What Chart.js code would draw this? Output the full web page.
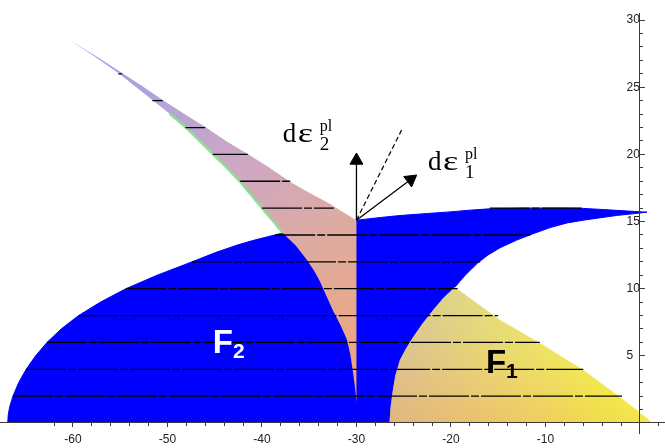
<!DOCTYPE html>
<html>
<head>
<meta charset="utf-8">
<title>Yield surfaces F1 and F2</title>
<script src="https://cdn.jsdelivr.net/npm/chart.js@4.4.1/dist/chart.umd.min.js"></script>
<style>
  html, body { margin: 0; padding: 0; background: #ffffff; }
  #plot { display: block; }
</style>
</head>
<body>
<canvas id="plot" width="665" height="448"></canvas>
<script>
// ---- axes ----
const xRange = [-67.72, 2.65];
const yRange = [-0.745, 30.53];
const xMajorTicks = [-60, -50, -40, -30, -20, -10];
const xMinorTicks = [-62, -60, -58, -56, -54, -52, -50, -48, -46, -44, -42, -40, -38, -36, -34, -32, -30,
                     -28, -26, -24, -22, -20, -18, -16, -14, -12, -10, -8, -6, -4, -2, 0, 2];
const yMajorTicks = [5, 10, 15, 20, 25, 30];
const yMinorTicks = [1, 2, 3, 4, 5, 6, 7, 8, 9, 10, 11, 12, 13, 14, 15, 16, 17, 18, 19, 20,
                     21, 22, 23, 24, 25, 26, 27, 28, 29, 30];

// ---- F2 surface section (blue), traced round its outline ----
const blueX = [-66.9, -66.85, -66.7, -66.35, -65.75, -64.95, -63.95, -62.75, -61.25, -59.4, -57.1, -54.4,
               -51.1, -47.4, -44.9, -42.6, -40.9, -39.2, -37.8, -30.0,
               -27.5, -25.4, -22.5, -20.1, -18.0, -15.9, -12.0, -8.0, -6.0, -4.0, -2.1, -0.5, 0.74,
               -0.74, -2.5, -4.2, -6.0, -7.7, -9.5, -11.3, -13.1, -14.8, -16.1, -17.2, -18.5, -19.6,
               -20.8, -21.9, -23.0, -24.0, -24.8, -25.4, -25.9, -26.2, -26.4, -26.5];
const blueY = [0, 0.6, 1.2, 2.0, 3.0, 4.0, 5.0, 6.0, 7.0, 8.0, 9.0, 10.0,
               11.0, 12.0, 12.7, 13.25, 13.6, 13.9, 14.15, 15.1,
               15.3, 15.45, 15.6, 15.72, 15.85, 15.95, 16.0, 16.0, 15.98, 15.9, 15.82, 15.75, 15.7,
               15.58, 15.45, 15.28, 15.1, 14.9, 14.55, 14.1, 13.6, 13.05, 12.5, 11.9, 11.0, 10.1,
               9.3, 8.4, 7.4, 6.4, 5.5, 4.7, 3.5, 2.2, 1.1, 0];

// ---- F1 surface section (orange to yellow) ----
const f1X = [-26.5, -26.4, -26.2, -25.9, -25.4, -24.8, -24.0, -23.0, -21.9, -20.8, -19.6,
             -14.8, -10.6, -6.0, -2.1, -1.06, -0.32, 0.0, 0.74, 1.27];
const f1Y = [0, 1.1, 2.2, 3.5, 4.7, 5.5, 6.4, 7.4, 8.4, 9.3, 10.1,
             7.67, 5.96, 3.95, 1.94, 1.34, 0.97, 0.74, 0.37, 0];

// ---- shaded band and cusp between the two surfaces ----
const bandX = [-60.3, -57.5, -54.8, -52.6, -50.5, -48.2, -46.0, -43.8, -41.5, -39.2, -37.0, -35.0, -33.0, -31.4, -30.0,
               -30.0, -30.1, -30.2, -30.4, -30.65, -31.0, -31.7, -32.5, -33.2, -33.9, -34.5, -35.2, -36.4, -37.8,
               -38.9, -40.0, -41.1, -42.3, -43.7, -45.2, -46.6, -48.1, -49.8, -51.6, -53.4, -55.2, -57.7];
const bandY = [28.5, 27.3, 26.06, 25.05, 24.05, 23.0, 22.04, 21.0, 20.03, 19.0, 17.95, 17.15, 16.4, 15.7, 15.1,
               1.55, 2.3, 2.9, 3.95, 5.1, 6.2, 7.3, 8.4, 9.5, 10.6, 11.35, 12.1, 13.2, 14.15,
               15.1, 16.0, 16.95, 17.95, 19.0, 20.03, 21.0, 22.04, 23.05, 24.05, 25.05, 26.06, 27.3];
const rimX = [-49.8, -48.1, -46.6, -45.2, -43.7, -42.3, -41.1, -40.0, -38.9, -37.8];
const rimY = [23.05, 22.04, 21.0, 20.03, 19.0, 17.95, 16.95, 16.0, 15.1, 14.15];

// ---- level lines ----
const hatchLevel = [2, 4, 6, 8, 10, 12, 14, 16, 16, 18, 20, 22, 24, 26];
const hatchFrom  = [-66.35, -64.95, -62.75, -59.4, -54.4, -47.4, -38.6, -40.0, -15.9, -42.3, -45.2, -48.1, -51.6, -55.2];
const hatchTo    = [-1.9, -6.0, -10.6, -15.0, -19.3, -16.9, -11.6, -32.4, -6.1, -37.0, -41.5, -46.0, -50.5, -54.8];

// ---- plastic strain increment vectors at the corner ----
const cornerPoint = [-30.0, 15.1];
const deps2End = [-30.0, 19.55];
const deps1End = [-24.26, 18.13];
const normalEnd = [-25.22, 21.82];

// ---- labels ----
const strainLabelX = [-37.8, -22.43];
const strainLabelY = [20.92, 18.84];
const strainLabelIndex = ['2', '1'];
const regionLabelX = [-45.2, -16.3];
const regionLabelY = [5.21, 3.72];
const regionLabelIndex = ['2', '1'];
const regionLabelColor = ['#ffffff', '#000000'];

const toPoints = (xs, ys) => xs.map((x, i) => ({x, y: ys[i]}));

function hatchPoints() {
  const pts = [];
  hatchLevel.forEach((lv, i) => {
    pts.push({x: hatchFrom[i], y: lv}, {x: hatchTo[i], y: lv}, {x: hatchTo[i], y: null});
  });
  return pts;
}

// gradient laid out in data units, converted through the chart scales
function linearFill(x0, y0, x1, y1, stops) {
  return (context) => {
    const chart = context.chart;
    const sx = chart.scales.x, sy = chart.scales.y;
    if (!sx || !sy || !chart.chartArea) return stops[0][1];
    const g = chart.ctx.createLinearGradient(
      sx.getPixelForValue(x0), sy.getPixelForValue(y0),
      sx.getPixelForValue(x1), sy.getPixelForValue(y1));
    stops.forEach(([o, c]) => g.addColorStop(o, c));
    return g;
  };
}

// arrowhead rotation follows the drawn segment on screen
function headRotation(context) {
  const chart = context.chart;
  const pts = chart.data.datasets[context.datasetIndex].data;
  const dx = chart.scales.x.getPixelForValue(pts[1].x) - chart.scales.x.getPixelForValue(pts[0].x);
  const dy = chart.scales.y.getPixelForValue(pts[1].y) - chart.scales.y.getPixelForValue(pts[0].y);
  return Math.atan2(dx, -dy) * 180 / Math.PI;
}

const polygon = {
  showLine: true, fill: 'shape', pointRadius: 0, pointHoverRadius: 0,
  borderColor: 'rgba(0,0,0,0)', borderWidth: 0, tension: 0
};

const labelLayer = {
  id: 'labelLayer',
  afterDatasetsDraw(chart) {
    const {ctx} = chart;
    const sx = chart.scales.x, sy = chart.scales.y;
    ctx.save();
    ctx.textAlign = 'left';
    ctx.textBaseline = 'alphabetic';
    ctx.fillStyle = '#000';
    strainLabelX.forEach((vx, i) => {
      const px = sx.getPixelForValue(vx);
      const py = sy.getPixelForValue(strainLabelY[i]);
      ctx.font = '27px "Liberation Serif", "Times New Roman", serif';
      ctx.fillText('d', px, py);
      ctx.save();
      ctx.translate(px + 15, py);
      ctx.scale(1.3, 1);
      ctx.font = '28px "Liberation Serif", "Times New Roman", serif';
      ctx.fillText('\u03B5', 0, 0);
      ctx.restore();
      ctx.font = '16px "Liberation Serif", "Times New Roman", serif';
      ctx.fillText('pl', px + 37, py - 11);
      ctx.font = '19px "Liberation Serif", "Times New Roman", serif';
      ctx.fillText(strainLabelIndex[i], px + 37, py + 8);
    });
    regionLabelX.forEach((vx, i) => {
      const px = sx.getPixelForValue(vx);
      const py = sy.getPixelForValue(regionLabelY[i]);
      ctx.fillStyle = regionLabelColor[i];
      ctx.font = 'bold 33px "Liberation Sans", Arial, sans-serif';
      ctx.fillText('F', px, py);
      const w = ctx.measureText('F').width;
      ctx.font = 'bold 21px "Liberation Sans", Arial, sans-serif';
      ctx.fillText(regionLabelIndex[i], px + w, py + 4.5);
    });
    ctx.restore();
  }
};

const axisColor = '#3a3a3a';
const tickFont = {family: '"Liberation Sans", Arial, sans-serif', size: 12};

function fixedTicks(values) {
  return (scale) => { scale.ticks = values.map(v => ({value: v})); };
}

new Chart(document.getElementById('plot'), {
  type: 'line',
  data: {
    datasets: [
      {
        data: toPoints([cornerPoint[0], deps2End[0]], [cornerPoint[1], deps2End[1]]),
        borderColor: '#000', borderWidth: 1.3, fill: false, showLine: true,
        pointRadius: [0, 7.5], pointHoverRadius: [0, 7.5], pointStyle: 'triangle',
        pointBackgroundColor: '#000', pointBorderColor: '#000', pointBorderWidth: 1,
        pointRotation: headRotation, order: 0
      },
      {
        data: toPoints([cornerPoint[0], deps1End[0]], [cornerPoint[1], deps1End[1]]),
        borderColor: '#000', borderWidth: 1.3, fill: false, showLine: true,
        pointRadius: [0, 7.5], pointHoverRadius: [0, 7.5], pointStyle: 'triangle',
        pointBackgroundColor: '#000', pointBorderColor: '#000', pointBorderWidth: 1,
        pointRotation: headRotation, order: 0
      },
      {
        data: toPoints([cornerPoint[0], normalEnd[0]], [cornerPoint[1], normalEnd[1]]),
        borderColor: '#000', borderWidth: 1.2, borderDash: [5, 3], fill: false, showLine: true,
        pointRadius: 0, order: 0
      },
      {
        data: hatchPoints(),
        borderColor: '#000', borderWidth: 1.3, borderDash: [40, 2, 8, 2], fill: false, showLine: true,
        spanGaps: false, pointRadius: 0, order: 1
      },
      {
        data: toPoints(rimX, rimY),
        borderColor: 'rgba(140,220,150,0.95)', borderWidth: 2.5, fill: false, showLine: true,
        pointRadius: 0, order: 2
      },
      Object.assign({}, polygon, {
        data: toPoints(bandX, bandY),
        backgroundColor: linearFill(-60.3, 28.5, -30.0, 1.55, [
          [0, '#9a9af2'], [0.2, '#b2a2dc'], [0.45, '#cfa7c2'], [0.65, '#dcaba4'],
          [0.85, '#e9a88a'], [1, '#f1a36e']]),
        order: 3
      }),
      Object.assign({}, polygon, {
        data: toPoints(f1X, f1Y),
        backgroundColor: linearFill(-19.6, 10.1, 1.27, 0, [
          [0, 'rgba(205,200,185,0.55)'], [0.6, 'rgba(230,225,170,0.15)'], [1, 'rgba(255,255,0,0)']]),
        order: 4
      }),
      Object.assign({}, polygon, {
        data: toPoints(f1X, f1Y),
        backgroundColor: linearFill(-26.5, 0, -17.5, 9.12, [
          [0, '#f0a04e'], [0.5, '#f1c456'], [1, '#f2e64c']]),
        order: 5
      }),
      Object.assign({}, polygon, {
        data: toPoints(blueX, blueY),
        backgroundColor: '#0000ff', borderColor: '#0000ff', borderWidth: 1,
        order: 6
      })
    ]
  },
  options: {
    responsive: false,
    devicePixelRatio: 1,
    animation: false,
    events: [],
    layout: {autoPadding: false, padding: {top: 13, bottom: 15, left: 0, right: 0}},
    plugins: {legend: {display: false}, tooltip: {enabled: false}},
    elements: {line: {tension: 0}},
    scales: {
      x: {
        type: 'linear', min: xRange[0], max: xRange[1], position: {y: 0},
        afterBuildTicks: fixedTicks(xMajorTicks),
        border: {display: true, color: axisColor, width: 1, z: 1},
        grid: {drawOnChartArea: false, drawTicks: true, tickLength: 4, tickColor: axisColor, z: 1},
        ticks: {autoSkip: false, maxRotation: 0, padding: 5, color: '#222', font: tickFont, z: 1,
                callback: (v) => String(v)}
      },
      xMinor: {
        type: 'linear', axis: 'x', min: xRange[0], max: xRange[1], position: {y: 0},
        afterBuildTicks: fixedTicks(xMinorTicks),
        border: {display: false},
        grid: {drawOnChartArea: false, drawTicks: true, tickLength: 3, tickColor: axisColor, z: 1},
        ticks: {display: false, autoSkip: false}
      },
      y: {
        type: 'linear', min: yRange[0], max: yRange[1], position: {x: 0},
        afterBuildTicks: fixedTicks(yMajorTicks),
        border: {display: true, color: axisColor, width: 1, z: 1},
        grid: {drawOnChartArea: false, drawTicks: true, tickLength: -6, tickColor: axisColor, z: 1},
        ticks: {autoSkip: false, padding: -16, color: '#222', font: tickFont, z: 1,
                callback: (v) => (v < 10 ? v + '  ' : String(v))}
      },
      yMinor: {
        type: 'linear', axis: 'y', min: yRange[0], max: yRange[1], position: {x: 0},
        afterBuildTicks: fixedTicks(yMinorTicks),
        border: {display: false},
        grid: {drawOnChartArea: false, drawTicks: true, tickLength: -3, tickColor: axisColor, z: 1},
        ticks: {display: false, autoSkip: false}
      }
    }
  },
  plugins: [labelLayer]
});
</script>
</body>
</html>
